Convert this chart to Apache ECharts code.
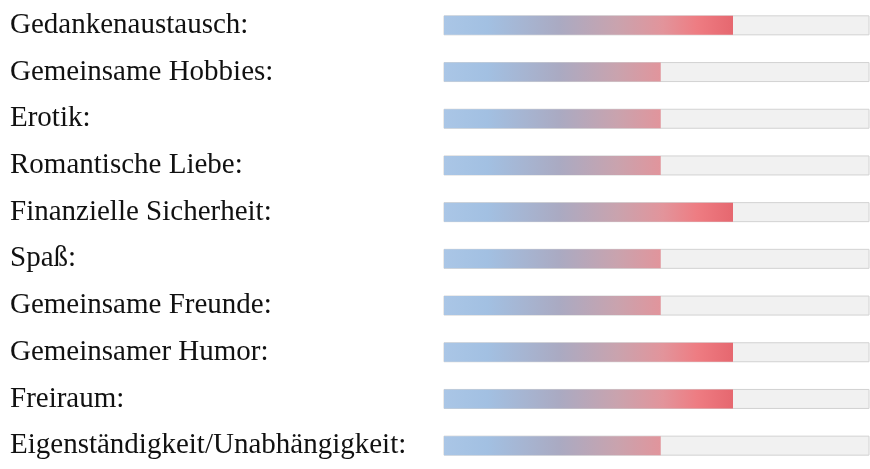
<!DOCTYPE html>
<html>
<head>
<meta charset="utf-8">
<script src="https://cdn.jsdelivr.net/npm/echarts@6/dist/echarts.min.js"></script>
<style>
  html, body { margin: 0; padding: 0; background: #fff; }
  #chart { width: 870px; height: 469px; }
</style>
</head>
<body>
<div id="chart"></div>
<script>
const categories = [
  "Gedankenaustausch:", "Gemeinsame Hobbies:", "Erotik:", "Romantische Liebe:",
  "Finanzielle Sicherheit:", "Spaß:", "Gemeinsame Freunde:", "Gemeinsamer Humor:",
  "Freiraum:", "Eigenständigkeit/Unabhängigkeit:"
];
const values = [68, 51, 51, 51, 68, 51, 51, 68, 68, 51];

let chart = echarts.init(document.getElementById("chart"), null, { renderer: "canvas" });

// gradient fixed in page pixels, so shorter bars stop at the pink part
const barColor = {
  type: "linear", x: 444, y: 0, x2: 732, y2: 0, global: true,
  colorStops: [
    { offset: 0, color: "#aac6e6" },
    { offset: 0.15, color: "#a2c0e2" },
    { offset: 0.4, color: "#aaaac2" },
    { offset: 0.6, color: "#c9a3ae" },
    { offset: 0.76, color: "#e2949b" },
    { offset: 0.88, color: "#ee7c82" },
    { offset: 1, color: "#e66870" }
  ]
};

chart.setOption({
  animation: false,
  grid: { left: 444, right: 1, top: 2, height: 474 },
  xAxis: { type: "value", min: 0, max: 100, show: false },
  yAxis: {
    type: "category",
    inverse: true,
    data: categories,
    axisLine: { show: false },
    axisTick: { show: false },
    axisLabel: {
      align: "left",
      margin: 434,
      padding: [4, 0, 0, 0],
      fontFamily: "Liberation Serif",
      fontSize: 29,
      color: "#111"
    }
  },
  series: [{
    type: "bar",
    data: values,
    barWidth: 19,
    itemStyle: { color: barColor },
    showBackground: true,
    backgroundStyle: { color: "#f1f1f1", borderColor: "#d2d2d2", borderWidth: 1 }
  }]
});
</script>
</body>
</html>
